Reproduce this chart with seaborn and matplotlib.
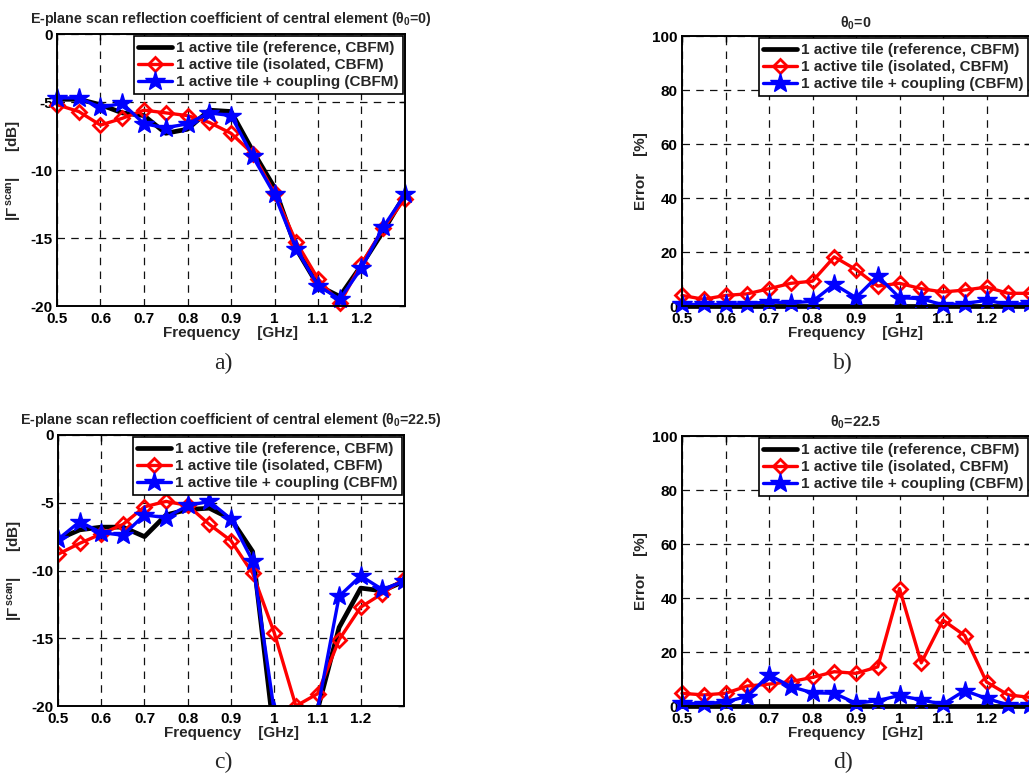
import numpy as np
import pandas as pd
import matplotlib
matplotlib.use("Agg")
import matplotlib.pyplot as plt
import seaborn as sns

# ---------------- data ----------------
freq = [0.5, 0.55, 0.6, 0.65, 0.7, 0.75, 0.8, 0.85, 0.9, 0.95,
        1.0, 1.05, 1.1, 1.15, 1.2, 1.25, 1.3]

# panel a: |Gamma scan| [dB], theta0 = 0
a_ref = [-4.8, -4.8, -5.2, -5.8, -6.0, -7.3, -7.0, -5.6, -5.7, -8.6,
         -11.3, -15.8, -18.5, -19.3, -17.0, -14.5, -11.8]
a_iso = [-5.2, -5.7, -6.7, -6.2, -5.6, -5.8, -6.0, -6.5, -7.3, -8.8,
         -11.7, -15.3, -18.0, -19.8, -16.9, -14.3, -12.1]
a_cpl = [-4.7, -4.7, -5.4, -5.1, -6.6, -6.9, -6.6, -5.8, -6.0, -9.0,
         -11.8, -15.8, -18.5, -19.5, -17.2, -14.2, -11.8]

# panel b: error [%], theta0 = 0
b_ref = [0] * 17
b_iso = [3.9, 2.5, 3.9, 4.5, 6.4, 8.4, 9.2, 18.2, 13.5, 7.4,
         8.4, 6.4, 5.2, 5.9, 7.0, 4.7, 4.7]
b_cpl = [0.6, 0.6, 0.6, 0.9, 1.5, 1.2, 1.7, 8.0, 3.1, 11.1,
         3.1, 2.7, 0.4, 0.9, 2.1, 0.6, 1.0]

# panel c: |Gamma scan| [dB], theta0 = 22.5
c_ref = [-7.7, -7.0, -6.8, -6.8, -7.5, -5.9, -5.5, -5.4, -6.2, -8.6,
         -22.2, -26.0, -20.3, -14.2, -11.3, -11.5, -10.8]
c_iso = [-8.8, -8.0, -7.3, -6.6, -5.3, -4.9, -5.2, -6.6, -7.8, -10.2,
         -14.6, -20.0, -19.1, -15.1, -12.7, -11.7, -10.6]
c_cpl = [-7.7, -6.4, -7.2, -7.4, -5.9, -6.1, -5.2, -4.9, -6.2, -9.3,
         -20.4, -26.0, -20.3, -11.9, -10.4, -11.4, -10.8]

# panel d: error [%], theta0 = 22.5
d_ref = [0] * 17
d_iso = [4.7, 4.1, 4.7, 7.4, 8.1, 9.0, 10.6, 12.7, 12.1, 14.5,
         43.5, 16.0, 31.8, 26.1, 8.9, 4.1, 3.2]
d_cpl = [1.2, 0.7, 1.6, 3.5, 11.5, 7.2, 4.9, 4.7, 1.0, 2.0,
         3.9, 2.2, 0.7, 5.7, 2.8, 0.4, 0.4]

series_labels = ["1 active tile (reference, CBFM)",
                 "1 active tile (isolated, CBFM)",
                 "1 active tile + coupling (CBFM)"]
xtick_vals = [0.5, 0.6, 0.7, 0.8, 0.9, 1.0, 1.1, 1.2]
xtick_labels = ["0.5", "0.6", "0.7", "0.8", "0.9", "1", "1.1", "1.2"]
titles = [r"E-plane scan reflection coefficient of central element ($\theta_0$=0)",
          r"$\theta_0$=0",
          r"E-plane scan reflection coefficient of central element ($\theta_0$=22.5)",
          r"$\theta_0$=22.5"]
captions = ["a)", "b)", "c)", "d)"]

# ---------------- style ----------------
sns.set_theme(style="white")
plt.rcParams["font.family"] = ["Liberation Sans", "DejaVu Sans"]
plt.rcParams["font.weight"] = "bold"
plt.rcParams["mathtext.fontset"] = "custom"
plt.rcParams["mathtext.rm"] = "Liberation Sans:bold"
plt.rcParams["mathtext.bf"] = "Liberation Sans:bold"
plt.rcParams["mathtext.it"] = "Liberation Sans:bold"
plt.rcParams["mathtext.default"] = "bf"

fig = plt.figure(figsize=(10.29, 7.74), dpi=100)
W, H = 1029, 774


def add_ax(l, r, t, b):
    return fig.add_axes([l / W, 1 - b / H, (r - l) / W, (b - t) / H])


axs = [add_ax(57, 405, 34, 306), add_ax(682, 1030, 36, 306),
       add_ax(58, 404, 435, 706), add_ax(682, 1030, 436, 706)]

data = [(a_ref, a_iso, a_cpl), (b_ref, b_iso, b_cpl),
        (c_ref, c_iso, c_cpl), (d_ref, d_iso, d_cpl)]
title_pads = [8, 6, 8, 7]

TICK = 11
LAB = 11
for i, (ax, (r, s, c)) in enumerate(zip(axs, data)):
    clip = (i == 2)
    df = pd.DataFrame({"f": freq, "ref": r, "iso": s, "cpl": c})
    sns.lineplot(data=df, x="f", y="ref", ax=ax, color="black", lw=3.4,
                 label=series_labels[0], sort=False, estimator=None,
                 clip_on=clip)
    sns.lineplot(data=df, x="f", y="iso", ax=ax, color="#ff0000", lw=2.4,
                 marker="D", markersize=7.5, markerfacecolor="none",
                 markeredgecolor="#ff0000", markeredgewidth=2.0,
                 label=series_labels[1], sort=False, estimator=None,
                 clip_on=clip)
    sns.lineplot(data=df, x="f", y="cpl", ax=ax, color="#0000ff", lw=2.4,
                 marker="*", markersize=15, markerfacecolor="#0000ff",
                 markeredgecolor="#0000ff", markeredgewidth=1.0,
                 label=series_labels[2], sort=False, estimator=None,
                 clip_on=clip)

    ax.set_xlim(0.5, 1.3)
    ax.set_xticks(xtick_vals)
    ax.set_xticklabels(xtick_labels)
    if i in (0, 2):
        ax.set_ylim(-20, 0)
        ax.set_yticks([-20, -15, -10, -5, 0])
        ax.set_yticklabels(["-20", "-15", "-10", "-5", "0"])
        ax.set_ylabel(r"|$\Gamma^{\,scan}$|      [dB]", fontsize=LAB,
                      fontweight="bold", labelpad=5)
    else:
        ax.set_ylim(0, 100)
        ax.set_yticks([0, 20, 40, 60, 80, 100])
        ax.set_ylabel("Error    [%]", fontsize=LAB, fontweight="bold",
                      labelpad=3)
    ax.set_xlabel("Frequency    [GHz]", fontsize=LAB, fontweight="bold",
                  labelpad=0)
    ax.set_title(titles[i], fontsize=10.3, fontweight="bold",
                 pad=title_pads[i])
    ax.grid(True, color="#111111", linestyle=(0, (6, 5)), linewidth=0.9)
    ax.tick_params(direction="in", length=4, width=1, top=True, right=True,
                   labelsize=TICK, colors="black")
    ax.tick_params(axis="x", pad=4)
    ax.tick_params(axis="y", pad=3)
    for lab in ax.get_xticklabels() + ax.get_yticklabels():
        lab.set_fontweight("bold")
    for sp in ax.spines.values():
        sp.set_color("black")
        sp.set_linewidth(1.4)
        sp.set_visible(True)
    leg = ax.legend(loc="upper right", fontsize=11, frameon=True,
                    fancybox=False, edgecolor="black", framealpha=1,
                    borderaxespad=0.15, handlelength=2.2, handletextpad=0.25,
                    borderpad=0.3, labelspacing=0.2)
    leg.get_frame().set_linewidth(1.2)
    for t in leg.get_texts():
        t.set_fontweight("bold")

cap_pos = [(223, 363), (843, 363), (223, 762), (843, 762)]
for (x, y), cap in zip(cap_pos, captions):
    fig.text(x / W, 1 - y / H, cap, ha="center", va="center",
             family="Liberation Serif", fontsize=17, fontweight="normal")

fig.savefig("out.png", dpi=100)
